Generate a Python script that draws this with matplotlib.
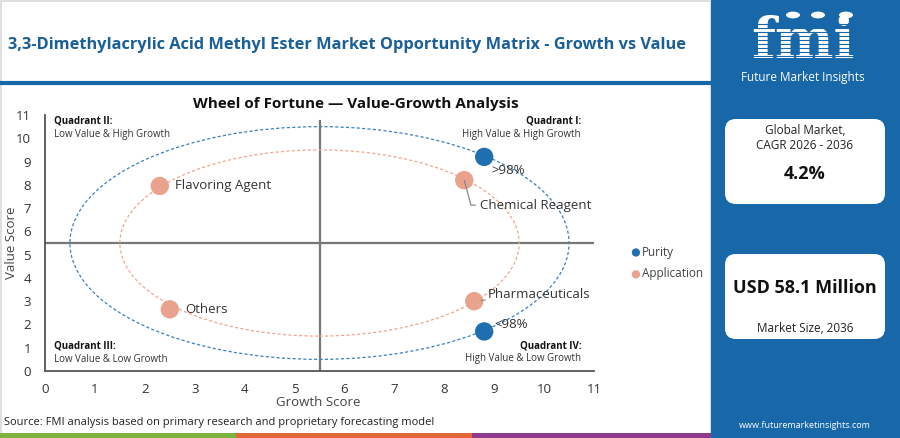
import matplotlib
matplotlib.use("Agg")
import matplotlib.pyplot as plt
from matplotlib.patches import Ellipse, Rectangle, FancyBboxPatch, Circle
from matplotlib.lines import Line2D

plt.rcParams['font.family'] = ['Open Sans', 'DejaVu Sans']

# ---------------- data ----------------
purity_labels = [">98%", "<98%"]
purity_x = [8.8, 8.8]
purity_y = [9.2, 1.7]

app_labels = ["Chemical Reagent", "Pharmaceuticals", "Flavoring Agent", "Others"]
app_x = [8.4, 8.6, 2.3, 2.5]
app_y = [8.2, 3.0, 7.95, 2.65]

x_ticks = list(range(0, 12))
y_ticks = list(range(0, 12))
center = (5.5, 5.5)
purity_radius = 5.0
app_radius = 4.0

title = "3,3-Dimethylacrylic Acid Methyl Ester Market Opportunity Matrix - Growth vs Value"
subtitle = "Wheel of Fortune \u2014 Value-Growth Analysis"
source = "Source: FMI analysis based on primary research and proprietary forecasting model"
cagr_value = "4.2%"
size_value = "USD 58.1 Million"

# ---------------- colours ----------------
BLUE = "#1f6eb0"
ORANGE = "#e9a28c"
TITLE_BLUE = "#1b5f97"
PANEL_BLUE = "#1767a9"
GRID = "#777777"

W, H = 900, 438
fig = plt.figure(figsize=(9, 4.38), dpi=100)
fig.patch.set_facecolor("white")


def fx(px):
    return px / W


def fy(py):
    return 1 - py / H


# outer light frame of left panel (behind axes)
fig.add_artist(Rectangle((fx(1), fy(437)), fx(710), 436 / H, transform=fig.transFigure,
                         facecolor="none", edgecolor="#d9d9d9", lw=1.2, zorder=-5))

# Title
fig.text(fx(8), fy(45), title, fontsize=11.75, fontweight="bold", color=TITLE_BLUE,
         ha="left", va="center")
# blue rule under title
fig.add_artist(Line2D([fx(2), fx(711)], [fy(83), fy(83)], transform=fig.transFigure,
                      color=PANEL_BLUE, lw=3))

# bottom colour bar
for x0, x1, c in [(0, 236, "#7cb342"), (236, 472, "#e06a3a"), (472, 712, "#8e3b8f")]:
    fig.add_artist(Rectangle((fx(x0), 0), fx(x1 - x0), 5 / H, transform=fig.transFigure,
                             facecolor=c, edgecolor="none"))

# ---------------- main axes ----------------
ax = fig.add_axes([fx(45), 1 - 371 / H, fx(549), (371 - 115) / H])
ax.set_xlim(0, 11)
ax.set_ylim(0, 11)
ax.patch.set_alpha(0)
for s in ["top", "right"]:
    ax.spines[s].set_visible(False)
for s in ["left", "bottom"]:
    ax.spines[s].set_color("#555555")
    ax.spines[s].set_linewidth(1.3)
ax.set_xticks(x_ticks)
ax.set_yticks(y_ticks)
ax.tick_params(axis="both", length=0, labelsize=9.5, labelcolor="#333333")
ax.tick_params(axis="x", pad=8.5)
ax.tick_params(axis="y", pad=10)
fig.text(fx(318), fy(402), "Growth Score", fontsize=9.5, color="#444444", ha="center", va="center")
fig.text(fx(12), fy(243), "Value Score", fontsize=9.5, color="#444444", ha="center", va="center",
         rotation=90)

# quadrant divider lines
ax.axvline(center[0], ymin=0, ymax=10.75 / 11, color=GRID, lw=1.6, zorder=1)
ax.axhline(center[1], color=GRID, lw=1.6, zorder=1)

# ellipses
ax.add_patch(Ellipse(center, 2 * purity_radius, 2 * purity_radius, fill=False,
                     edgecolor="#3a7fc0", lw=0.9, ls=(0, (2.5, 1.8)), zorder=2))
ax.add_patch(Ellipse(center, 2 * app_radius, 2 * app_radius, fill=False,
                     edgecolor="#f0a690", lw=0.9, ls=(0, (2.5, 1.8)), zorder=2))

# points
ax.scatter(purity_x, purity_y, s=175, color=BLUE, zorder=5, label="Purity", edgecolors="none")
ax.scatter(app_x, app_y, s=175, color=ORANGE, zorder=5, label="Application", edgecolors="none")

lab_kw = dict(fontsize=9.5, color="#333333", zorder=6)
# purity labels
ax.annotate(purity_labels[0], (purity_x[0], purity_y[0]), xytext=(5, -10), textcoords="offset points",
            ha="left", va="center", **lab_kw)
ax.annotate(purity_labels[1], (purity_x[1], purity_y[1]), xytext=(7, 5), textcoords="offset points",
            ha="left", va="center", arrowprops=dict(arrowstyle="-", color="#888888", lw=0.8,
                                                    shrinkA=0, shrinkB=5), **lab_kw)
# application labels
ax.annotate(app_labels[0], (app_x[0], app_y[0]), xytext=(11, -18), textcoords="offset points",
            ha="left", va="center",
            arrowprops=dict(arrowstyle="-", color="#888888", lw=0.9, shrinkA=1, shrinkB=0,
                            connectionstyle="angle,angleA=0,angleB=-75,rad=0"), **lab_kw)
ax.annotate(app_labels[1], (app_x[1], app_y[1]), xytext=(10, 5), textcoords="offset points",
            ha="left", va="center",
            arrowprops=dict(arrowstyle="-", color="#888888", lw=0.8, shrinkA=0, shrinkB=5), **lab_kw)
ax.annotate(app_labels[2], (app_x[2], app_y[2]), xytext=(11, 0), textcoords="offset points",
            ha="left", va="center", **lab_kw)
ax.annotate(app_labels[3], (app_x[3], app_y[3]), xytext=(11, 0), textcoords="offset points",
            ha="left", va="center", **lab_kw)

# quadrant labels
qb = dict(fontsize=7, fontweight="bold", color="#111111", va="center")
qn = dict(fontsize=7, color="#333333", va="center")
fig.text(fx(54), fy(121), "Quadrant II:", ha="left", **qb)
fig.text(fx(54), fy(134), "Low Value & High Growth", ha="left", **qn)
fig.text(fx(581), fy(121), "Quadrant I:", ha="right", **qb)
fig.text(fx(581), fy(134), "High Value & High Growth", ha="right", **qn)
fig.text(fx(54), fy(346), "Quadrant III:", ha="left", **qb)
fig.text(fx(54), fy(359), "Low Value & Low Growth", ha="left", **qn)
fig.text(fx(581), fy(346), "Quadrant IV:", ha="right", **qb)
fig.text(fx(581), fy(359), "High Value & Low Growth", ha="right", **qn)

# chart subtitle
fig.text(fx(356), fy(104), subtitle, fontsize=11, fontweight="bold", color="#111111",
         ha="center", va="center")

# legend
leg = ax.legend(loc="center left", bbox_to_anchor=((630 - 45) / 549, (371 - 263) / 256),
                frameon=False, fontsize=8.5, markerscale=0.45, handletextpad=0.0,
                labelspacing=0.75, handlelength=1.0, borderaxespad=0, borderpad=0)
for t in leg.get_texts():
    t.set_color("#444444")

# source
fig.text(fx(4), fy(422), source, fontsize=8, color="#222222", ha="left", va="center")

# ---------------- right panel ----------------
fig.add_artist(Rectangle((fx(711), 0), fx(W - 711), 1, transform=fig.transFigure,
                         facecolor=PANEL_BLUE, edgecolor="none"))
# logo
fig.text(fx(803), fy(58), "fmi", fontsize=40, fontweight="bold", family="DejaVu Serif",
         color="white", ha="center", va="baseline", zorder=3)
for yy in range(24, 62, 4):
    fig.add_artist(Line2D([fx(735), fx(872)], [fy(yy), fy(yy)], transform=fig.transFigure,
                          color=PANEL_BLUE, lw=0.8, zorder=4))
for cx in [793, 818, 846]:
    fig.add_artist(Circle((fx(cx), fy(15)), 7 / W, transform=fig.transFigure,
                          facecolor="white", edgecolor="none", zorder=4))
fig.text(fx(803), fy(78), "Future Market Insights", fontsize=8.5, color="white",
         ha="center", va="center", zorder=4)

# cards
for (y0, y1) in [(119, 204), (254, 339)]:
    fig.add_artist(FancyBboxPatch((fx(725), fy(y1)), fx(160), (y1 - y0) / H,
                                  boxstyle="round,pad=0,rounding_size=0.012",
                                  transform=fig.transFigure, facecolor="white", edgecolor="none",
                                  mutation_aspect=W / H, zorder=3))
fig.text(fx(805), fy(131), "Global Market,", fontsize=8.5, color="#222222", ha="center", va="center", zorder=5)
fig.text(fx(805), fy(146), "CAGR 2026 - 2036", fontsize=8.5, color="#222222", ha="center", va="center", zorder=5)
fig.text(fx(805), fy(174), cagr_value, fontsize=13, fontweight="bold", color="#111111",
         ha="center", va="center", zorder=5)
fig.text(fx(805), fy(288), size_value, fontsize=13, fontweight="bold", color="#111111",
         ha="center", va="center", zorder=5)
fig.text(fx(805), fy(328), "Market Size, 2036", fontsize=8.5, color="#222222", ha="center", va="center", zorder=5)
fig.text(fx(805), fy(426), "www.futuremarketinsights.com", fontsize=6.5, color="white",
         ha="center", va="center", zorder=5)

fig.savefig("out.png", dpi=100, facecolor=fig.get_facecolor())
